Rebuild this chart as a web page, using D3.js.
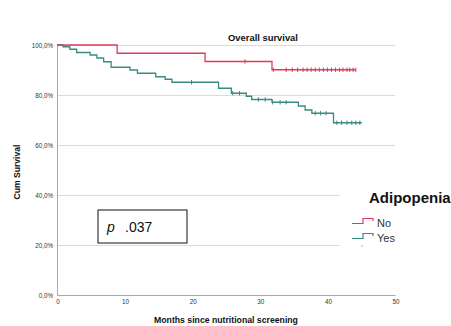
<!DOCTYPE html>
<html>
<head>
<meta charset="utf-8">
<script src="https://cdn.jsdelivr.net/npm/d3@7"></script>
<style>
  body { margin: 0; background: #fff; }
  svg { display: block; font-family: "Liberation Sans", Arial, sans-serif; }
  .tick text { fill: #333; font-size: 6.3px; }
</style>
</head>
<body>
<div id="plot"></div>
<script>
const W = 451, H = 326;
const margin = {top: 45, right: 56, bottom: 31, left: 57};
const width = W - margin.left - margin.right;
const height = H - margin.top - margin.bottom;

// Kaplan-Meier steps [months, cum survival %]
const noSteps = [[0, 100], [8.9, 96.7], [21.9, 93.4], [31.8, 90.1]];
const noEnd = 44.2;
const noCensored = [27.8, 32.0, 33.9, 34.8, 35.6, 36.4, 37.0, 37.6, 38.2, 38.8, 39.4,
  40.0, 40.6, 41.2, 41.8, 42.3, 42.9, 43.3, 43.8, 44.2];

const yesSteps = [[0, 100], [0.9, 99.3], [1.9, 98.3], [2.9, 97.0], [4.9, 96.0], [5.9, 94.8],
  [6.9, 93.3], [8.0, 91.1], [10.8, 90.0], [11.9, 88.7], [14.6, 87.3], [16.0, 86.3],
  [17.0, 85.1], [23.9, 82.7], [25.8, 80.7], [28.0, 79.5], [28.8, 78.2], [31.8, 77.1],
  [35.7, 75.6], [36.7, 74.0], [37.7, 72.7], [40.9, 68.9]];
const yesEnd = 45.1;
const yesCensored = [19.9, 26.0, 27.0, 29.8, 30.8, 31.9, 33.0, 33.9, 38.2, 39.0, 39.8,
  41.4, 42.1, 42.9, 43.6, 44.2, 44.8];

const xTicks = [0, 10, 20, 30, 40, 50];
const yTicks = [0, 20, 40, 60, 80, 100];
const groups = ["No", "Yes"];
const colors = {No: "#e2385a", Yes: "#3b8a82"};

const svg = d3.select("#plot").append("svg")
  .attr("width", W).attr("height", H);

const x = d3.scaleLinear().domain([0, 50]).range([0, width]);
const y = d3.scaleLinear().domain([0, 100]).range([height, 0]);

const g = svg.append("g").attr("transform", `translate(${margin.left},${margin.top})`);

// gridlines
g.append("g")
  .call(d3.axisLeft(y).tickValues(yTicks.slice(1)).tickSize(-width).tickFormat(""))
  .call(s => s.select(".domain").remove())
  .call(s => s.selectAll("line").attr("stroke", "#dadada"));

// axes
const fmt = d => d.toFixed(1).replace(".", ",") + "%";
g.append("g")
  .call(d3.axisLeft(y).tickValues(yTicks).tickSize(0).tickPadding(4).tickFormat(fmt))
  .call(s => s.select(".domain").attr("stroke", "#a8a8a8"));

g.append("g")
  .attr("transform", `translate(0,${height})`)
  .call(d3.axisBottom(x).tickValues(xTicks).tickSize(0).tickPadding(5))
  .call(s => s.select(".domain").attr("stroke", "#a8a8a8"))
  .call(s => s.selectAll("text").attr("dx", "0.5"));

// curves
const line = d3.line().x(d => x(d[0])).y(d => y(d[1])).curve(d3.curveStepAfter);

function drawCurve(steps, end, censored, color) {
  const pts = steps.concat([[end, steps[steps.length - 1][1]]]);
  g.append("path").datum(pts)
    .attr("fill", "none").attr("stroke", color).attr("stroke-width", 1.3)
    .attr("d", line);
  const survAt = t => steps.filter(s => s[0] <= t).pop()[1];
  g.selectAll(null).data(censored).enter().append("line")
    .attr("x1", d => x(d)).attr("x2", d => x(d))
    .attr("y1", d => y(survAt(d)) - 2.2).attr("y2", d => y(survAt(d)) + 2.2)
    .attr("stroke", color).attr("stroke-width", 1);
}
drawCurve(yesSteps, yesEnd, yesCensored, colors.Yes);
drawCurve(noSteps, noEnd, noCensored, colors.No);

// title
svg.append("text").attr("x", 263).attr("y", 41).attr("text-anchor", "middle")
  .attr("font-size", 9.4).attr("font-weight", "bold").attr("fill", "#111")
  .text("Overall survival");

// axis titles
svg.append("text").attr("transform", "translate(20,172) rotate(-90)")
  .attr("text-anchor", "middle").attr("font-size", 8.6).attr("font-weight", "bold")
  .attr("fill", "#111").text("Cum Survival");
svg.append("text").attr("x", 226).attr("y", 323).attr("text-anchor", "middle")
  .attr("font-size", 8.7).attr("font-weight", "bold").attr("fill", "#111")
  .text("Months since nutritional screening");

// p-value box
svg.append("rect").attr("x", 98).attr("y", 210).attr("width", 89).attr("height", 33)
  .attr("fill", "#fff").attr("stroke", "#111").attr("stroke-width", 1);
const pt = svg.append("text").attr("x", 107).attr("y", 232).attr("font-size", 14).attr("fill", "#111");
pt.append("tspan").attr("font-style", "italic").text("p");
pt.append("tspan").attr("x", 125).text(".037");

// legend
const leg = svg.append("g");
leg.append("rect").attr("x", 340).attr("y", 182).attr("width", 111).attr("height", 72).attr("fill", "#fff");
leg.append("text").attr("x", 369).attr("y", 203).attr("font-size", 15).attr("font-weight", "bold")
  .attr("fill", "#111").text("Adipopenia");
groups.forEach((name, i) => {
  const yy = 223.5 + i * 15;
  leg.append("path")
    .attr("d", `M352,${yy}H363V${yy - 5}H373V${yy - 2.5}`)
    .attr("fill", "none").attr("stroke", colors[name]).attr("stroke-width", 1.2);
  leg.append("text").attr("x", 377).attr("y", yy + 3).attr("font-size", 11)
    .attr("fill", "#333").text(name);
});
leg.append("rect").attr("x", 361.5).attr("y", 245).attr("width", 1).attr("height", 2).attr("fill", "#f08aa0");
</script>
</body>
</html>
